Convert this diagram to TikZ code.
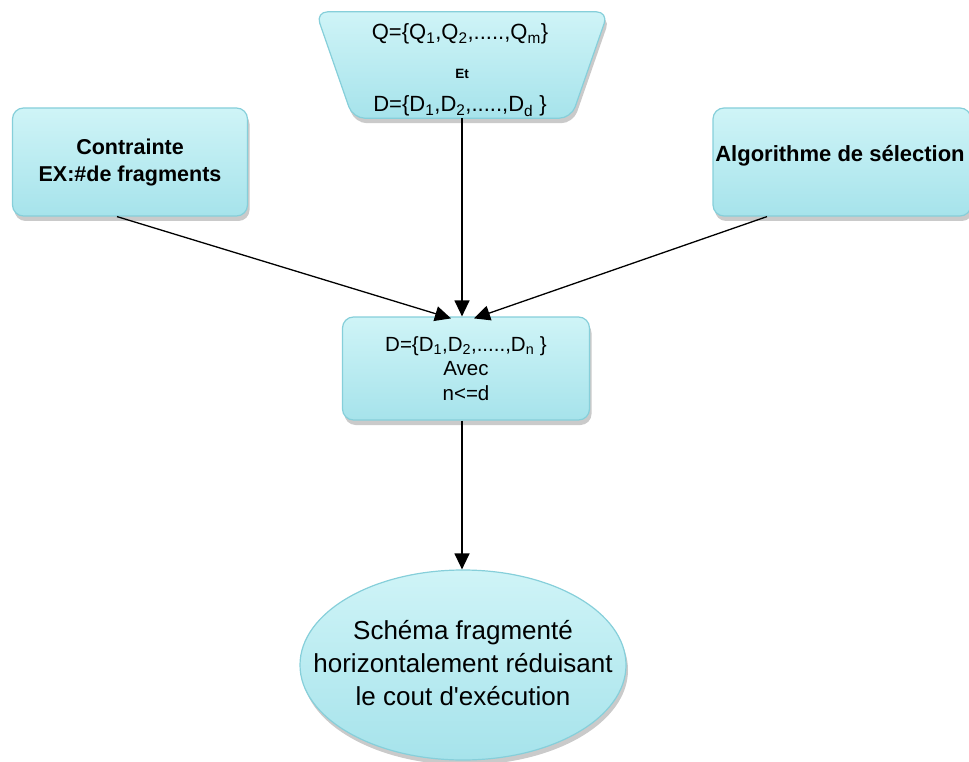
\documentclass[tikz,border=0pt]{standalone}
\usepackage{fontspec}
\setmainfont{Liberation Sans}
\usetikzlibrary{arrows.meta,shapes.geometric,shadows,calc}
\definecolor{boxtop}{HTML}{CFF4F7}
\definecolor{boxbot}{HTML}{A6E3EB}
\definecolor{boxline}{HTML}{86CFDA}
\tikzset{
  panel/.style={draw=boxline, line width=1.2pt, top color=boxtop, bottom color=boxbot,
    drop shadow={shadow xshift=2pt, shadow yshift=-5pt, opacity=0.35, fill=black!60}},
  roundbox/.style={panel, rectangle, rounded corners=11pt, inner sep=0pt},
  link/.style={line width=1.3pt, -{Triangle[length=16pt,width=15pt]}},
  setline/.style={font=\fontsize{22}{26}\selectfont, anchor=base},
  boldtxt/.style={font=\fontsize{21.5}{27}\selectfont\bfseries, anchor=base},
}
\begin{document}
\begin{tikzpicture}[x=1pt,y=-1pt]
\useasboundingbox (0,0) rectangle (969,762);

% queries and domains (trapezoid)
\node[minimum width=292pt, minimum height=106pt, inner sep=0pt] (trap) at (462,65) {};
\path[panel, rounded corners=12pt]
  (trap.north west) -- (trap.north east)
  -- ($(trap.south east)+(-37,0)$) -- ($(trap.south west)+(37,0)$) -- cycle;
\node[setline] (qset) at (460,40) {Q=\{Q\textsubscript{1},Q\textsubscript{2},.....,Q\textsubscript{m}\}};
\node[font=\fontsize{13.5}{15}\selectfont\bfseries, anchor=base] (et) at (462,79) {Et};
\node[setline] (dset) at (460,112) {D=\{D\textsubscript{1},D\textsubscript{2},.....,D\textsubscript{d} \}};

% side inputs
\node[roundbox, minimum width=235pt, minimum height=108pt] (constraint) at (130,162) {};
\node[boldtxt] (ctitle) at (130,155) {Contrainte};
\node[boldtxt] (cex) at (130,182) {EX:\#de fragments};
\node[roundbox, minimum width=258pt, minimum height=108pt] (algo) at (842,162) {};
\node[boldtxt, font=\fontsize{22}{27}\selectfont\bfseries] (atext) at (840,162) {Algorithme de sélection};

% selected subset
\node[roundbox, align=center, font=\fontsize{20.5}{24.5}\selectfont, minimum width=247pt, minimum height=103pt] (subset) at (466,368.5)
  {D=\{D\textsubscript{1},D\textsubscript{2},.....,D\textsubscript{n} \}\\Avec\\n<=d};

% result
\node[panel, ellipse, inner sep=0pt, minimum width=326pt, minimum height=190pt] (result) at (463,665) {};
\node[align=center, font=\fontsize{26}{33}\selectfont] (rtext) at (463,663)
  {Schéma fragmenté\\horizontalement réduisant\\le cout d\textquotesingle exécution};

% connectors
\draw[link] (trap.south) -- (trap.south |- subset.north);
\draw[link] ([xshift=-13pt]constraint.south) -- ([xshift=-15pt,yshift=-2pt]subset.north);
\draw[link] ([xshift=-75pt]algo.south) -- ([xshift=8pt,yshift=-2pt]subset.north);
\draw[link] (subset.south -| trap.south) -- (result.north -| trap.south);
\end{tikzpicture}
\end{document}
